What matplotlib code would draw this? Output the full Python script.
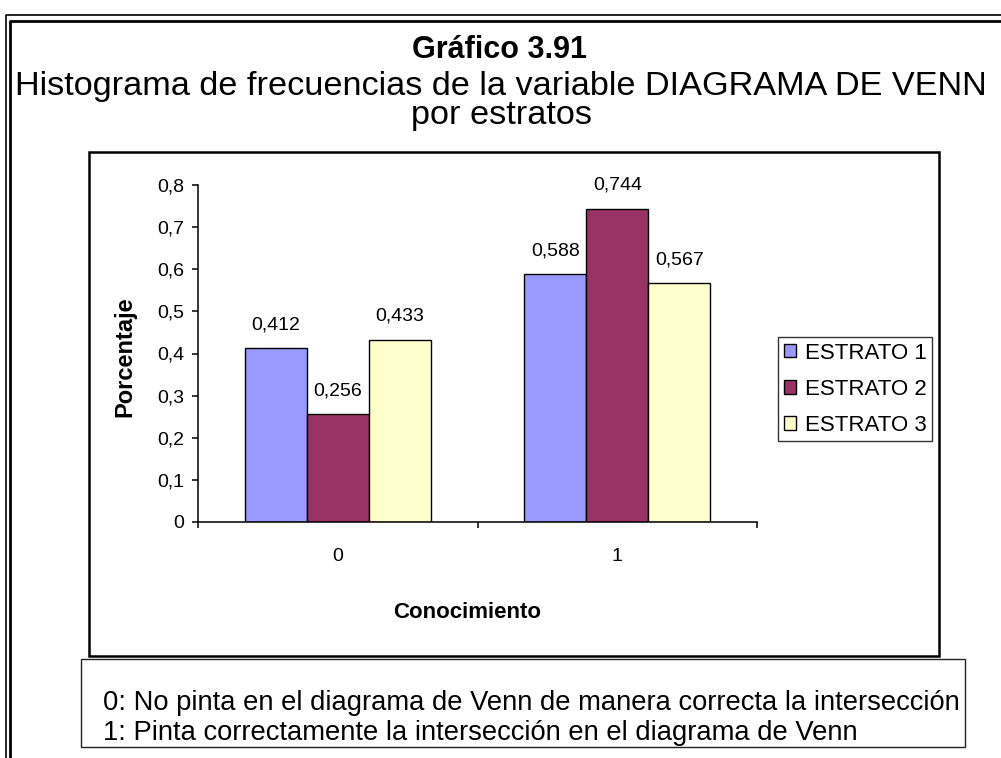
import numpy as np
import matplotlib
matplotlib.use("Agg")
import matplotlib.pyplot as plt
from matplotlib.patches import Rectangle
from matplotlib.lines import Line2D
from matplotlib.ticker import FixedLocator, FuncFormatter

plt.rcParams['font.family'] = ['Liberation Sans', 'DejaVu Sans']

categories = ["0", "1"]
series_names = ["ESTRATO 1", "ESTRATO 2", "ESTRATO 3"]
estrato1 = [0.412, 0.588]
estrato2 = [0.256, 0.744]
estrato3 = [0.433, 0.567]
colors = ["#9999FF", "#993366", "#FFFFCC"]
footer_lines = [
    "0: No pinta en el diagrama de Venn de manera correcta la intersección",
    "1: Pinta correctamente la intersección en el diagrama de Venn",
]

W, H = 1001, 758
fig = plt.figure(figsize=(W / 100, H / 100), dpi=100)


def fx(x):
    return x / W


def fy(y):
    return 1 - y / H


# double page frame (runs off the right and bottom edges)
fig.add_artist(Line2D([fx(6), fx(6), fx(1010)], [fy(770), fy(15), fy(15)],
                      transform=fig.transFigure, color="black", lw=1.2))
fig.add_artist(Line2D([fx(10), fx(10), fx(1010)], [fy(770), fy(21), fy(21)],
                      transform=fig.transFigure, color="black", lw=2.0))

# titles
fig.text(fx(500), fy(58), "Gráfico 3.91", ha="center", va="baseline",
         fontsize=22, fontweight="bold")
fig.text(fx(501), fy(95), "Histograma de frecuencias de la variable DIAGRAMA DE VENN",
         ha="center", va="baseline", fontsize=24.7)
fig.text(fx(501), fy(124), "por estratos", ha="center", va="baseline", fontsize=24.7)

# chart area box
fig.add_artist(Rectangle((fx(89), fy(656)), fx(939) - fx(89), fy(152) - fy(656),
                         transform=fig.transFigure, fill=False, ec="black", lw=1.8))

ax = fig.add_axes([fx(198), fy(522), fx(757) - fx(198), fy(185) - fy(522)])
x = np.arange(len(categories))
w = 0.222
for i, (vals, name, c) in enumerate(zip([estrato1, estrato2, estrato3], series_names, colors)):
    bars = ax.bar(x + (i - 1) * w, vals, w, color=c, edgecolor="black", lw=1.0, label=name)
    for b, v in zip(bars, vals):
        ax.annotate(f"{v:.3f}".replace(".", ","), (b.get_x() + b.get_width() / 2, v),
                    xytext=(0, 17), textcoords="offset points",
                    ha="center", va="center", fontsize=14)

ax.set_xlim(-0.5, 1.5)
ax.set_ylim(0, 0.8)
ax.set_yticks(np.arange(0, 0.81, 0.1))
ax.yaxis.set_major_formatter(FuncFormatter(lambda v, p: f"{v:.1f}".replace(".", ",").replace("0,0", "0")))
ax.xaxis.set_major_locator(FixedLocator([-0.5, 0.5, 1.5]))
ax.xaxis.set_minor_locator(FixedLocator(x))
ax.set_xticklabels([])
ax.set_xticklabels(categories, minor=True)
ax.tick_params(axis="x", which="major", direction="out", length=4, width=1.1)
ax.tick_params(axis="x", which="minor", length=0, pad=19, labelsize=14)
ax.tick_params(axis="y", direction="out", length=4, width=1.1, labelsize=14, pad=6)
for s in ["top", "right"]:
    ax.spines[s].set_visible(False)
for s in ["left", "bottom"]:
    ax.spines[s].set_linewidth(1.1)
ax.set_facecolor("none")

fig.text(fx(467), fy(612), "Conocimiento", ha="center", va="center",
         fontsize=16, fontweight="bold")
fig.text(fx(125), fy(357), "Porcentaje", ha="center", va="center", rotation=90,
         fontsize=17, fontweight="bold")

leg = fig.legend(loc="upper left", bbox_to_anchor=(fx(778), fy(337)), borderaxespad=0,
                 fontsize=16, frameon=True, fancybox=False, edgecolor="black",
                 handlelength=0.55, handleheight=0.55, handletextpad=0.4,
                 labelspacing=0.68, borderpad=0.25)
leg.get_frame().set_linewidth(1.0)

# footer legend box for the category codes
fig.add_artist(Rectangle((fx(81), fy(747)), fx(965) - fx(81), fy(659) - fy(747),
                         transform=fig.transFigure, fill=False, ec="#222222", lw=1.0))
for k, line in enumerate(footer_lines):
    fig.text(fx(103), fy(710 + 30 * k), line, ha="left", va="baseline", fontsize=19.7)

fig.savefig("out.png", dpi=100)
